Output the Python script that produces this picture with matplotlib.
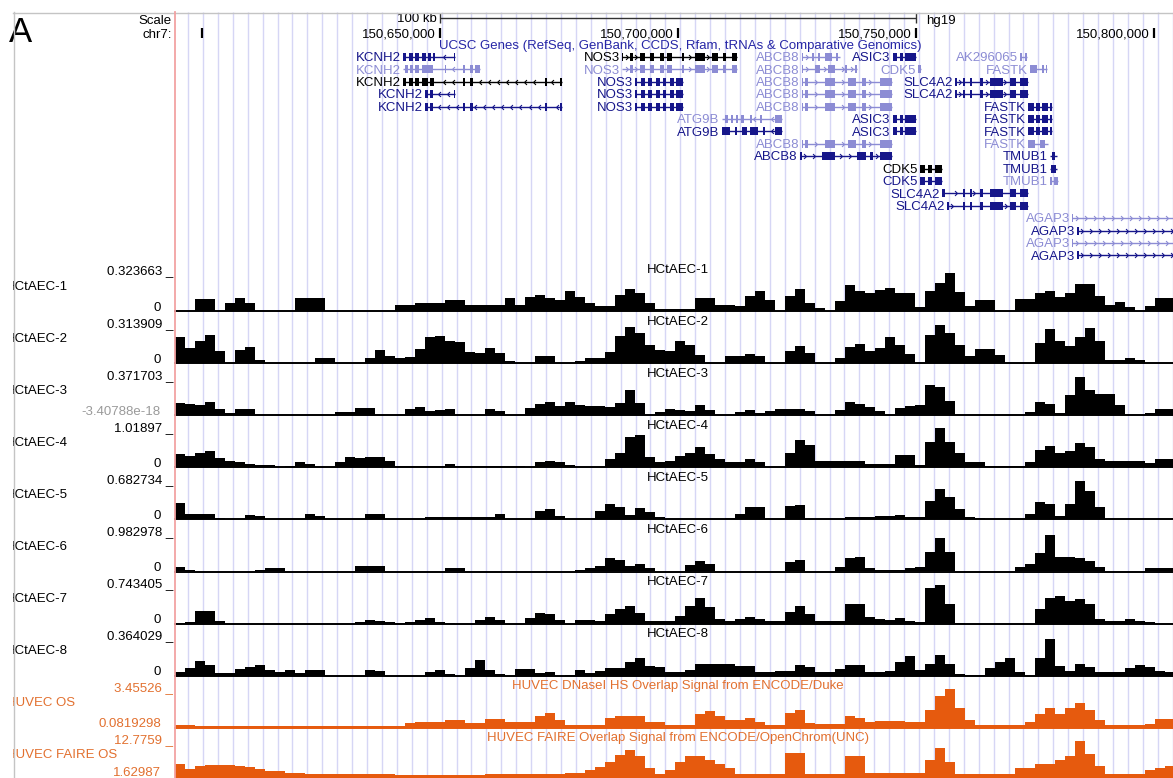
import numpy as np
import matplotlib
matplotlib.use('Agg')
import matplotlib.pyplot as plt
from matplotlib.patches import Rectangle
from matplotlib.path import Path

plt.rcParams['font.family'] = ['Liberation Sans', 'DejaVu Sans']

W, H = 1173, 778

# ---------------- genomic frame (kb relative to chr7:150,600,000) ----------------
view_kb = (-5.65, 203.93)
bin_start_kb = -5.65
bin_kb = 2.1
guide_start_kb = -2.92
guide_step_kb = 3.133
ruler_ticks_kb = [0, 50, 100, 150, 200]
ruler_labels = ['', '150,650,000', '150,700,000', '150,750,000', '150,800,000']
scale_bar_kb = (50.0, 150.0)

# ---------------- signal tracks (binned, 2.1 kb bins) ----------------
hct1 = [0, 0, 0.10, 0.10, 0, 0.066, 0.108, 0.066, 0, 0,
        0, 0, 0.108, 0.108, 0.108, 0, 0, 0, 0, 0,
        0, 0, 0.05, 0.05, 0.066, 0.066, 0.066, 0.091, 0.091, 0.05,
        0.05, 0.05, 0.05, 0.108, 0.05, 0.116, 0.133, 0.108, 0.091, 0.166,
        0.116, 0.066, 0.041, 0.041, 0.133, 0.183, 0.149, 0.066, 0.017, 0.017,
        0.017, 0.017, 0.108, 0.108, 0.05, 0.05, 0.041, 0.124, 0.166, 0.091,
        0, 0.124, 0.183, 0.066, 0.025, 0, 0.083, 0.216, 0.166, 0.149,
        0.174, 0.191, 0.149, 0.149, 0.033, 0.166, 0.232, 0.315, 0.158, 0.041,
        0.091, 0.091, 0, 0, 0.10, 0.10, 0.149, 0.166, 0.116, 0.149,
        0.224, 0.224, 0.124, 0.05, 0.075, 0.033, 0, 0.041, 0.108, 0.108]
hct2 = [0.209, 0.121, 0.177, 0.225, 0.097, 0, 0.105, 0.129, 0.024, 0,
        0, 0, 0, 0, 0.040, 0.040, 0, 0, 0, 0.040,
        0.105, 0.056, 0.040, 0.048, 0.113, 0.209, 0.217, 0.177, 0.169, 0.089,
        0.080, 0.121, 0.080, 0.016, 0, 0, 0.056, 0.056, 0, 0,
        0.016, 0.040, 0.040, 0.089, 0.217, 0.290, 0.242, 0.145, 0.105, 0.097,
        0.177, 0.145, 0.064, 0, 0, 0.056, 0.056, 0.072, 0.056, 0,
        0, 0.097, 0.137, 0.080, 0, 0, 0.040, 0.129, 0.153, 0.097,
        0.121, 0.209, 0.145, 0.072, 0, 0.225, 0.306, 0.242, 0.145, 0.056,
        0.113, 0.113, 0.064, 0, 0, 0, 0.161, 0.274, 0.177, 0.137,
        0.209, 0.282, 0.177, 0.024, 0.024, 0.040, 0.024, 0, 0, 0]
hct3 = [0.114, 0.105, 0.095, 0.124, 0.057, 0.019, 0.057, 0.057, 0, 0,
        0, 0, 0, 0, 0, 0, 0.029, 0.029, 0.067, 0.067,
        0, 0, 0, 0.057, 0.076, 0.038, 0.048, 0.057, 0, 0,
        0, 0.057, 0.038, 0, 0, 0.067, 0.105, 0.124, 0.086, 0.124,
        0.095, 0.086, 0.086, 0.076, 0.114, 0.238, 0.114, 0, 0.029, 0.057,
        0.048, 0.038, 0.095, 0.048, 0, 0, 0.029, 0.048, 0.019, 0.038,
        0.057, 0.057, 0.057, 0.038, 0, 0, 0.048, 0.124, 0.105, 0.076,
        0.038, 0, 0.067, 0.086, 0.095, 0.286, 0.267, 0.133, 0, 0,
        0, 0, 0, 0, 0, 0.029, 0.124, 0.105, 0.019, 0.191,
        0.362, 0.238, 0.200, 0.200, 0.095, 0, 0, 0.019, 0.057, 0.057]
hct4 = [0.339, 0.287, 0.365, 0.418, 0.235, 0.157, 0.13, 0.078, 0.052, 0.052,
        0, 0.026, 0.13, 0.078, 0, 0, 0.13, 0.261, 0.235, 0.261,
        0.261, 0.157, 0.026, 0.026, 0.026, 0.026, 0.026, 0.078, 0.026, 0.026,
        0.026, 0.026, 0.026, 0.026, 0.026, 0, 0.13, 0.157, 0.13, 0.052,
        0, 0, 0, 0.209, 0.365, 0.783, 0.836, 0.261, 0.13, 0.157,
        0.287, 0.365, 0.522, 0.339, 0.209, 0.13, 0.13, 0.209, 0.13, 0,
        0, 0.365, 0.705, 0.574, 0.157, 0.157, 0.157, 0.157, 0.157, 0.078,
        0.078, 0.078, 0.313, 0.313, 0.052, 0.653, 1.018, 0.653, 0.365, 0.13,
        0.13, 0.026, 0.026, 0.026, 0.026, 0.13, 0.444, 0.548, 0.365, 0.418,
        0.626, 0.522, 0.209, 0.157, 0.157, 0.157, 0.157, 0.104, 0.209, 0.209]
hct5 = [0.28, 0.088, 0.088, 0.088, 0.018, 0, 0, 0.07, 0.053, 0,
        0, 0, 0, 0.088, 0.053, 0, 0, 0, 0, 0.088,
        0.088, 0, 0, 0, 0, 0.035, 0.035, 0.035, 0.035, 0.035,
        0.035, 0.035, 0.088, 0, 0, 0, 0.14, 0.175, 0.053, 0.009,
        0.009, 0.009, 0.14, 0.263, 0.21, 0.07, 0.193, 0.123, 0.035, 0,
        0, 0, 0, 0, 0, 0.018, 0.088, 0.21, 0.21, 0,
        0, 0.228, 0.245, 0, 0, 0, 0, 0.035, 0.035, 0.035,
        0.053, 0.053, 0.07, 0.035, 0.035, 0.315, 0.525, 0.385, 0.175, 0.035,
        0.018, 0, 0, 0, 0, 0.088, 0.298, 0.263, 0.053, 0.263,
        0.665, 0.49, 0.21, 0.009, 0.009, 0.009, 0.009, 0.009, 0.009, 0.009]
hct6 = [0.126, 0.05, 0.025, 0.025, 0.025, 0.025, 0.025, 0.025, 0.05, 0.10,
        0.076, 0.025, 0.025, 0.025, 0.025, 0.025, 0.025, 0.025, 0.151, 0.151,
        0.151, 0.025, 0.025, 0.025, 0.025, 0.025, 0.025, 0.10, 0.10, 0.025,
        0.025, 0.025, 0.025, 0.025, 0.025, 0.025, 0.025, 0.025, 0.025, 0.025,
        0.05, 0.10, 0.151, 0.328, 0.302, 0.151, 0.20, 0.10, 0.025, 0.025,
        0.025, 0.176, 0.277, 0.20, 0.025, 0.025, 0.025, 0.025, 0.025, 0.025,
        0.025, 0.252, 0.302, 0.025, 0.025, 0.025, 0.126, 0.328, 0.378, 0.076,
        0.05, 0.05, 0.05, 0.076, 0.126, 0.504, 0.832, 0.504, 0.013, 0.013,
        0.013, 0.013, 0.013, 0.013, 0.126, 0.20, 0.454, 0.932, 0.353, 0.353,
        0.328, 0.277, 0.126, 0.013, 0.013, 0.013, 0.013, 0.10, 0.10, 0.10]
hct7 = [0.019, 0.038, 0.248, 0.248, 0.057, 0, 0, 0, 0, 0,
        0, 0, 0, 0, 0, 0, 0, 0, 0.038, 0.076,
        0.057, 0.038, 0.019, 0.038, 0.076, 0.114, 0.038, 0.019, 0, 0,
        0.076, 0.133, 0.076, 0, 0, 0.114, 0.21, 0.191, 0.076, 0,
        0.076, 0.076, 0.057, 0.191, 0.286, 0.343, 0.21, 0.057, 0.057, 0.057,
        0.152, 0.343, 0.496, 0.324, 0.095, 0.057, 0.095, 0.133, 0.095, 0.057,
        0.057, 0.229, 0.343, 0.191, 0.057, 0.057, 0.057, 0.381, 0.381, 0.133,
        0.095, 0.076, 0.114, 0.057, 0.038, 0.686, 0.743, 0.381, 0.019, 0,
        0, 0, 0, 0, 0, 0, 0.286, 0.496, 0.534, 0.438,
        0.477, 0.381, 0.095, 0.057, 0.057, 0.095, 0.057, 0.038, 0, 0]
hct8 = [0.037, 0.075, 0.14, 0.103, 0.028, 0.028, 0.065, 0.084, 0.103, 0.056,
        0.037, 0.056, 0.028, 0.056, 0.056, 0, 0, 0, 0, 0.056,
        0.047, 0, 0, 0, 0, 0.037, 0.056, 0.019, 0, 0.075,
        0.149, 0.056, 0.019, 0, 0.065, 0.065, 0.028, 0.037, 0, 0.009,
        0.056, 0.028, 0.047, 0.075, 0.075, 0.131, 0.168, 0.093, 0.084, 0.037,
        0.037, 0.056, 0.112, 0.112, 0.112, 0.112, 0.093, 0.093, 0.037, 0.037,
        0.047, 0.047, 0.103, 0.084, 0.037, 0.037, 0.065, 0.103, 0.103, 0.037,
        0.037, 0.047, 0.131, 0.187, 0.056, 0.112, 0.196, 0.112, 0.019, 0.009,
        0.009, 0.075, 0.131, 0.168, 0.037, 0, 0.168, 0.345, 0.093, 0.047,
        0.112, 0.084, 0.037, 0.037, 0.037, 0.075, 0.103, 0.084, 0.047, 0.037]
huvec_dnase = [0.342, 0.342, 0.255, 0.255, 0.255, 0.255, 0.255, 0.255, 0.255, 0.255,
               0.255, 0.255, 0.255, 0.255, 0.255, 0.255, 0.255, 0.255, 0.255, 0.255,
               0.255, 0.255, 0.255, 0.515, 0.601, 0.601, 0.601, 0.774, 0.774, 0.515,
               0.515, 0.861, 0.861, 0.601, 0.601, 0.601, 1.12, 1.38, 0.774, 0.342,
               0.342, 0.342, 0.342, 0.947, 1.12, 1.12, 1.12, 0.601, 0.601, 0.342,
               0.342, 0.342, 1.293, 1.553, 1.12, 0.774, 0.774, 0.947, 0.601, 0.342,
               0.342, 1.38, 1.639, 0.515, 0.428, 0.428, 0.428, 1.12, 0.947, 0.601,
               0.688, 0.688, 0.688, 0.601, 0.601, 1.639, 2.85, 3.455, 1.812, 0.774,
               0.342, 0.342, 0.342, 0.342, 0.342, 0.601, 1.293, 1.812, 1.293, 1.812,
               2.245, 1.639, 0.774, 0.342, 0.342, 0.342, 0.342, 0.428, 0.861, 0.861]
huvec_faire = [6.21, 4.78, 5.63, 5.92, 5.92, 5.92, 5.63, 5.35, 4.78, 4.20,
               4.20, 3.63, 3.63, 3.35, 3.35, 3.35, 3.35, 3.35, 3.35, 3.35,
               3.35, 3.35, 3.06, 3.06, 3.06, 3.06, 3.06, 3.06, 3.06, 3.06,
               3.06, 3.35, 3.35, 3.35, 3.35, 3.35, 3.35, 3.35, 3.35, 3.63,
               3.63, 4.49, 5.35, 6.78, 8.78, 10.21, 8.49, 5.06, 3.35, 4.49,
               6.78, 8.49, 8.49, 7.35, 6.21, 5.06, 3.35, 3.35, 3.35, 3.35,
               3.35, 9.35, 9.35, 3.35, 3.35, 3.35, 3.35, 8.49, 8.49, 3.63,
               3.63, 3.63, 3.63, 3.63, 3.63, 7.35, 10.78, 6.78, 3.35, 3.35,
               3.35, 3.35, 3.35, 3.35, 5.06, 5.06, 6.21, 6.21, 7.35, 8.49,
               12.77, 9.07, 5.63, 3.35, 3.35, 3.35, 3.35, 4.49, 5.06, 5.63]

track_names = ['HCtAEC-1', 'HCtAEC-2', 'HCtAEC-3', 'HCtAEC-4', 'HCtAEC-5',
               'HCtAEC-6', 'HCtAEC-7', 'HCtAEC-8', 'HUVEC OS', 'HUVEC FAIRE OS']
track_titles = ['HCtAEC-1', 'HCtAEC-2', 'HCtAEC-3', 'HCtAEC-4', 'HCtAEC-5',
                'HCtAEC-6', 'HCtAEC-7', 'HCtAEC-8',
                'HUVEC DNaseI HS Overlap Signal from ENCODE/Duke',
                'HUVEC FAIRE Overlap Signal from ENCODE/OpenChrom(UNC)']
track_min = [0, 0, -3.40788e-18, 0, 0, 0, 0, 0, 0.0819298, 1.62987]
track_max = [0.323663, 0.313909, 0.371703, 1.01897, 0.682734, 0.982978,
             0.743405, 0.364029, 3.45526, 12.7759]
track_min_labels = ['0', '0', '-3.40788e-18', '0', '0', '0', '0', '0', '0.0819298', '1.62987']
track_max_labels = ['0.323663', '0.313909', '0.371703', '1.01897', '0.682734',
                    '0.982978', '0.743405', '0.364029', '3.45526', '12.7759']
track_values = [hct1, hct2, hct3, hct4, hct5, hct6, hct7, hct8, huvec_dnase, huvec_faire]

# ---------------- gene models ----------------
gene_names = ['KCNH2', 'NOS3', 'ABCB8', 'ASIC3', 'AK296065',
              'KCNH2', 'NOS3', 'ABCB8', 'CDK5', 'FASTK',
              'KCNH2', 'NOS3', 'ABCB8', 'SLC4A2',
              'KCNH2', 'NOS3', 'ABCB8', 'SLC4A2',
              'KCNH2', 'NOS3', 'ABCB8', 'FASTK',
              'ATG9B', 'ASIC3', 'FASTK',
              'ATG9B', 'ASIC3', 'FASTK',
              'ABCB8', 'FASTK',
              'ABCB8', 'TMUB1',
              'CDK5', 'TMUB1',
              'CDK5', 'TMUB1',
              'SLC4A2', 'SLC4A2',
              'AGAP3', 'AGAP3', 'AGAP3', 'AGAP3']
gene_rows = [0, 0, 0, 0, 0, 1, 1, 1, 1, 1, 2, 2, 2, 2, 3, 3, 3, 3, 4, 4, 4, 4,
             5, 5, 5, 6, 6, 6, 7, 7, 8, 8, 9, 9, 10, 10, 11, 12, 13, 14, 15, 16]
gene_tones = ['d', 'k', 'l', 'd', 'l', 'l', 'l', 'l', 'l', 'l', 'k', 'd', 'l', 'd',
              'd', 'd', 'l', 'd', 'd', 'd', 'l', 'd', 'l', 'd', 'd', 'd', 'd', 'd',
              'l', 'l', 'd', 'd', 'k', 'd', 'd', 'l', 'd', 'd', 'l', 'd', 'l', 'd']
gene_starts = [42.2, 88.2, 126.0, 145.1, 171.8, 42.2, 88.2, 126.0, 150.4, 173.9,
               42.2, 91.0, 126.0, 158.2, 46.9, 91.0, 126.0, 158.2, 46.9, 91.0, 126.0, 173.5,
               109.2, 145.1, 173.5, 109.2, 145.1, 173.5, 126.0, 173.5, 125.6, 178.1,
               150.8, 178.1, 150.8, 178.1, 155.4, 156.5, 182.7, 183.8, 182.7, 183.8]
gene_ends = [53.2, 112.4, 134.0, 150.0, 173.3, 58.4, 112.4, 137.6, 151.0, 177.5,
             75.6, 101.0, 144.9, 173.5, 53.2, 101.0, 144.9, 173.5, 75.6, 101.0, 144.9, 178.5,
             121.8, 150.0, 178.5, 121.8, 150.0, 178.5, 144.9, 177.7, 144.9, 179.6,
             155.4, 179.6, 155.4, 179.8, 173.5, 173.5, 215.0, 215.0, 215.0, 215.0]
kcnh2_a = [(42.2, 42.9), (43.5, 44.3), (44.75, 45.6), (46.2, 47.1), (47.5, 48.1), (48.5, 48.9), (52.9, 53.2)]
kcnh2_b = [(42.6, 43.3), (43.7, 44.3), (44.75, 45.6), (46.2, 48.5), (51.0, 51.3), (54.8, 55.3), (56.3, 56.9), (57.3, 58.4)]
kcnh2_c = [(42.2, 42.9), (43.5, 44.3), (44.75, 45.6), (46.2, 47.5), (47.9, 48.7), (54.8, 55.3), (56.3, 56.9), (72.1, 72.5), (75.2, 75.6)]
kcnh2_d = [(46.9, 47.5), (47.9, 48.5), (52.9, 53.2)]
kcnh2_e = [(46.9, 47.5), (47.9, 48.5), (54.8, 55.3), (56.3, 56.9), (72.1, 72.5), (75.2, 75.6)]
nos3_long = [(88.2, 88.5), (89.9, 90.5), (92.0, 93.1), (94.1, 94.9), (96.2, 97.0), (97.7, 98.7), (100.8, 101.2),
             (103.6, 105.7), (107.1, 108.4), (109.5, 110.1), (111.3, 112.4)]
nos3_short = [(91.0, 91.4), (92.2, 93.1), (93.7, 94.5), (95.4, 96.2), (96.8, 97.5), (98.3, 99.1), (99.6, 101.0)]
abcb8_a = [(126.0, 126.2), (128.1, 128.5), (129.4, 129.8), (130.9, 132.3), (133.2, 133.6)]
abcb8_b = [(126.0, 126.2), (128.8, 129.8), (131.5, 133.0), (135.1, 135.5), (137.2, 137.6)]
abcb8_c = [(126.0, 126.2), (126.7, 127.3), (130.9, 133.0), (135.7, 137.4), (138.6, 139.5), (142.4, 144.9)]
abcb8_d = [(125.6, 126.0), (130.2, 133.0), (137.6, 139.5), (140.3, 140.9), (142.4, 144.9)]
asic3 = [(145.1, 146.0), (146.6, 147.2), (147.7, 150.0)]
ak296065 = [(171.8, 172.2), (172.9, 173.3)]
cdk5_a = [(150.4, 151.0)]
cdk5_b = [(150.8, 151.9), (152.5, 153.3), (154.0, 155.4)]
fastk_a = [(173.9, 175.4), (176.4, 176.8), (177.3, 177.5)]
fastk_b = [(173.5, 174.7), (175.2, 176.0), (176.4, 177.7), (178.1, 178.5)]
fastk_c = [(173.5, 174.95), (176.0, 177.05)]
slc4a2_a = [(158.2, 158.6), (159.8, 160.3), (161.3, 161.7), (163.4, 164.0), (165.5, 168.2), (169.7, 171.0), (171.8, 173.5)]
slc4a2_b = [(155.4, 156.1)] + slc4a2_a[1:]
slc4a2_c = [(156.5, 156.8)] + slc4a2_a[1:]
atg9b_a = [(109.9, 110.5), (111.1, 111.5), (112.2, 112.6), (113.2, 113.8), (115.1, 115.5), (117.2, 117.6), (120.4, 121.8)]
atg9b_b = [(109.2, 110.9), (112.0, 112.4), (113.4, 114.5), (115.1, 116.8), (117.8, 118.3), (120.4, 121.8)]
tmub1_a = [(178.5, 179.2)]
tmub1_b = [(178.3, 179.4)]
tmub1_c = [(178.1, 178.5), (179.0, 179.8)]
agap3_l = [(182.7, 182.9)]
agap3_d = [(183.8, 184.2)]
gene_exons = [kcnh2_a, nos3_long, abcb8_a, asic3, ak296065,
              kcnh2_b, nos3_long[1:], abcb8_b, cdk5_a, fastk_a,
              kcnh2_c, nos3_short, abcb8_c, slc4a2_a,
              kcnh2_d, nos3_short, abcb8_c, slc4a2_a,
              kcnh2_e, nos3_short, abcb8_c, fastk_b,
              atg9b_a, asic3, fastk_b,
              atg9b_b, asic3, fastk_b,
              abcb8_c, fastk_c,
              abcb8_d, tmub1_a,
              cdk5_b, tmub1_b,
              cdk5_b, tmub1_c,
              slc4a2_b, slc4a2_c,
              agap3_l, agap3_d, agap3_l, agap3_d]
gene_strand = {'KCNH2': -1, 'NOS3': 1, 'ABCB8': 1, 'ASIC3': -1, 'AK296065': -1, 'CDK5': -1,
               'FASTK': -1, 'SLC4A2': 1, 'ATG9B': -1, 'TMUB1': -1, 'AGAP3': 1}

# ---------------- styles ----------------
TONE = {'d': '#16168a', 'l': '#8c8cd4', 'k': '#000000'}
ORANGE = '#E65A0E'
ORANGE_TXT = '#E2702F'
GUIDE = '#d6d6f5'
FS = 9.5

fig = plt.figure(figsize=(W / 100, H / 100), dpi=100)
fig.patch.set_facecolor('white')


def px_axes(x0, y0, x1, y1, z=1):
    ax = fig.add_axes([x0 / W, 1 - y1 / H, (x1 - x0) / W, (y1 - y0) / H])
    ax.set_zorder(z)
    ax.patch.set_alpha(0)
    ax.set_axis_off()
    return ax


PX0, PX1 = 175, 1173

# background: guides, ruler, genes (x = kb, y = pixel rows)
bg = px_axes(PX0, 12, PX1, H, z=0)
bg.set_xlim(*view_kb)
bg.set_ylim(H, 12)
guides = np.arange(guide_start_kb, view_kb[1], guide_step_kb)
bg.vlines(guides, 12, H, color=GUIDE, lw=1.0, zorder=0)

bg.vlines(ruler_ticks_kb, 28, 38, color='black', lw=1.6, zorder=3)
for t, lab in zip(ruler_ticks_kb, ruler_labels):
    bg.text(t - 0.9, 37.5, lab, ha='right', va='baseline', fontsize=FS, zorder=4)
bg.hlines(18, *scale_bar_kb, color='#333333', lw=1.0, zorder=3)
bg.vlines(scale_bar_kb, 13, 23, color='#333333', lw=1.0, zorder=3)
bg.text(scale_bar_kb[0] - 0.6, 22.5, '100 kb', ha='right', va='baseline', fontsize=FS)
bg.text(scale_bar_kb[1] + 2.0, 24.0, 'hg19', ha='left', va='baseline', fontsize=FS)
bg.text(100.4, 49.5, 'UCSC Genes (RefSeq, GenBank, CCDS, Rfam, tRNAs & Comparative Genomics)',
        ha='center', va='baseline', fontsize=FS, color='#2626a6', zorder=5)

chev_r = Path([(-0.6, 1.0), (0.4, 0.0), (-0.6, -1.0)], [Path.MOVETO, Path.LINETO, Path.LINETO])
chev_l = Path([(0.6, 1.0), (-0.4, 0.0), (0.6, -1.0)], [Path.MOVETO, Path.LINETO, Path.LINETO])

for name, r, s, e, tone, ex in zip(gene_names, gene_rows, gene_starts, gene_ends, gene_tones, gene_exons):
    c = TONE[tone]
    y = 57 + 12.4 * r
    bg.hlines(y, s, e, color=c, lw=1.0, zorder=2)
    for a, b in ex:
        bg.add_patch(Rectangle((a, y - 4), b - a, 8, facecolor=c, edgecolor='none', zorder=3))
    pos = np.arange(s + 1.0, e - 0.5, 1.9)
    keep = [p for p in pos if all(not (a - 0.4 <= p <= b + 0.4) for a, b in ex)]
    if keep:
        bg.plot(keep, [y] * len(keep), ls='none',
                marker=chev_r if gene_strand[name] > 0 else chev_l,
                ms=3.5, mfc='none', mec=c, mew=0.8, zorder=2)
    bg.text(s - 0.45, y + 4.3, name, ha='right', va='baseline', color=c, fontsize=FS, zorder=4)

# signal tracks
for i, vals in enumerate(track_values):
    b = 311 + 52.1 * i
    col = ORANGE if i >= 8 else 'black'
    ax = px_axes(PX0, b - 39, PX1, b, z=2)
    ax.set_xlim(*view_kb)
    ax.set_ylim(track_min[i], track_max[i])
    v = np.asarray(vals, dtype=float)
    edges = bin_start_kb + bin_kb * np.arange(len(v) + 1)
    ax.fill_between(edges, np.r_[v, v[-1]], track_min[i], step='post', color=col, lw=0)
    ax.axhline(track_min[i], color=col, lw=1.4, clip_on=False)

# overlay: labels and frame
ov = fig.add_axes([0, 0, 1, 1])
ov.set_xlim(0, W)
ov.set_ylim(H, 0)
ov.set_axis_off()
ov.patch.set_alpha(0)
ov.set_zorder(5)

ov.text(9, 42, 'A', fontsize=25, ha='left', va='baseline')
ov.text(172, 23.5, 'Scale', ha='right', va='baseline', fontsize=FS)
ov.text(172, 37.5, 'chr7:', ha='right', va='baseline', fontsize=FS)

for i in range(len(track_values)):
    b = 311 + 52.1 * i
    tc = ORANGE_TXT if i >= 8 else 'black'
    ov.text(6, b - 21.5, track_names[i], ha='left', va='baseline', fontsize=FS, color=tc, zorder=4)
    ov.text(173, b - 36.5, track_max_labels[i] + ' _', ha='right', va='baseline', fontsize=FS, color=tc)
    mc = '#9a9a9a' if track_min_labels[i].startswith('-') else tc
    ov.text(161, min(b - 0.5, H - 2.5), track_min_labels[i], ha='right', va='baseline', fontsize=FS, color=mc)
    ov.text(678, b - 38.5, track_titles[i], ha='center', va='baseline', fontsize=FS, color=tc, zorder=6)

ov.add_patch(Rectangle((0, 50), 13, H - 50, facecolor='white', edgecolor='none', zorder=10))
ov.plot([13, W], [12.5, 12.5], color='#c4c4c4', lw=1.0, zorder=11)
ov.plot([13.5, 13.5], [12, H], color='#c4c4c4', lw=1.0, zorder=11)
ov.plot([174.5, 174.5], [12, H], color='#f2a2a2', lw=1.3, zorder=11)

fig.savefig('out.png', dpi=100)
